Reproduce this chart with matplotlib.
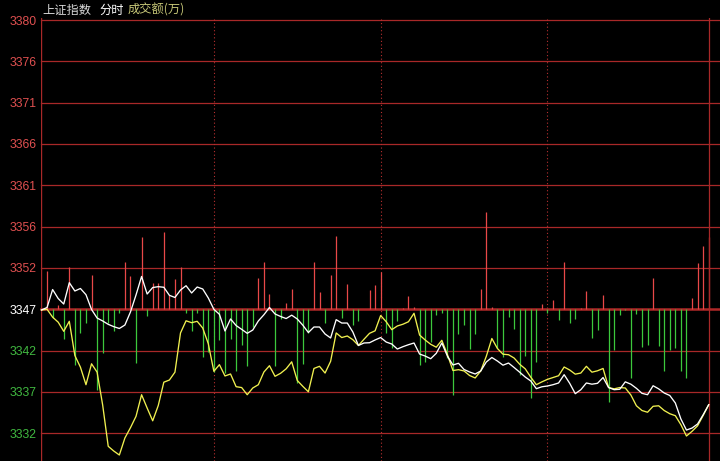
import matplotlib
matplotlib.use("Agg")
import matplotlib.pyplot as plt
import numpy as np

# ---------------- data ----------------
prev_close = 3346.82
grid_step = 4.785
tick_labels = ["3380", "3376", "3371", "3366", "3361", "3356", "3352",
               "3347", "3342", "3337", "3332"]
tick_steps = [7, 6, 5, 4, 3, 2, 1, 0, -1, -2, -3]

price = [3346.74, 3347.03, 3349.11, 3348.07, 3347.43, 3349.90, 3348.94, 3349.23, 3348.51, 3346.80,
         3345.81, 3345.47, 3345.08, 3344.81, 3344.60, 3345.00, 3346.51, 3348.48, 3350.62, 3348.59,
         3349.34, 3349.44, 3349.37, 3348.44, 3348.19, 3349.05, 3349.55, 3348.71, 3349.40, 3349.17,
         3348.13, 3346.82, 3346.24, 3344.31, 3345.70, 3344.94, 3344.50, 3344.04, 3344.42, 3345.47,
         3346.19, 3347.03, 3346.28, 3345.99, 3345.75, 3346.14, 3345.70, 3344.98, 3344.13, 3344.77,
         3344.77, 3343.96, 3343.50, 3345.62, 3345.23, 3345.23, 3344.19, 3342.63, 3342.92, 3342.95,
         3343.27, 3343.55, 3343.03, 3342.80, 3342.22, 3342.49, 3342.72, 3342.92, 3341.64, 3341.41,
         3341.10, 3341.72, 3342.92, 3341.41, 3340.37, 3340.57, 3339.85, 3339.56, 3339.33, 3339.68,
         3340.72, 3341.24, 3340.83, 3340.35, 3340.60, 3340.08, 3339.54, 3338.98, 3338.52, 3337.63,
         3337.85, 3337.94, 3338.09, 3338.29, 3339.25, 3338.25, 3337.05, 3337.51, 3338.29, 3338.15,
         3338.25, 3338.92, 3337.76, 3337.51, 3337.56, 3338.42, 3338.15, 3337.67, 3337.09, 3336.93,
         3337.97, 3337.61, 3337.13, 3336.84, 3335.97, 3334.12, 3332.84, 3333.07, 3333.54, 3334.61,
         3335.77]

index_line = [3346.74, 3346.82, 3345.91, 3345.33, 3344.27, 3345.43, 3341.47, 3340.12, 3338.09, 3340.51,
              3339.54, 3335.74, 3330.96, 3330.41, 3329.95, 3331.92, 3333.11, 3334.43, 3336.93, 3335.39,
              3333.91, 3335.68, 3338.38, 3338.63, 3339.54, 3344.08, 3345.49, 3345.27, 3345.43, 3344.65,
              3342.83, 3339.64, 3340.41, 3339.10, 3339.33, 3337.86, 3337.76, 3336.93, 3337.71, 3338.09,
              3339.56, 3340.29, 3339.06, 3339.41, 3339.93, 3340.74, 3338.58, 3337.90, 3337.27, 3339.97,
              3340.22, 3339.44, 3340.80, 3344.08, 3343.55, 3343.73, 3343.30, 3342.63, 3343.35, 3344.04,
              3344.33, 3346.10, 3345.38, 3344.46, 3344.89, 3345.09, 3345.38, 3346.36, 3343.84, 3343.27,
              3342.77, 3342.43, 3343.23, 3341.59, 3339.73, 3339.83, 3339.68, 3339.15, 3338.87, 3339.68,
              3341.38, 3343.44, 3342.28, 3341.62, 3341.56, 3341.18, 3340.46, 3339.93, 3338.96, 3338.09,
              3338.42, 3338.71, 3338.92, 3339.13, 3340.14, 3339.79, 3339.31, 3339.44, 3340.22, 3339.54,
              3339.70, 3339.97, 3337.76, 3337.61, 3337.76, 3337.71, 3336.90, 3335.65, 3335.10, 3334.90,
              3335.59, 3335.65, 3335.10, 3334.73, 3334.50, 3333.46, 3332.15, 3332.69, 3333.33, 3334.52,
              3335.77]

strength = [0.00, 4.47, -0.97, 0.50, -3.47, 4.86, -6.47, -2.74, -1.55, 3.97,
            -9.40, -5.10, -1.59, -2.49, -0.39, 5.48, 3.86, -6.18, 8.34, -0.74,
            3.08, 3.08, 8.95, 1.62, 3.54, 4.93, -0.43, -2.55, -0.39, -5.58,
            -4.94, -7.26, -3.61, -7.34, -3.44, -7.14, -4.19, -6.51, -2.07, 3.66,
            5.48, 1.77, -6.60, -1.10, 0.73, 2.35, -8.48, -6.31, -2.74, 5.48,
            2.00, -1.62, 3.97, 8.49, -0.95, 2.93, -1.77, -1.30, 0.00, 2.23,
            2.81, 4.32, -2.74, -4.48, -1.30, 0.15, 1.57, 0.30, -6.47, -6.10,
            -3.73, -0.63, -0.46, -5.64, -9.95, -2.86, -1.78, -4.54, -2.86, 2.33,
            11.30, 0.29, -4.48, -5.52, -0.86, -2.32, -7.56, -5.44, -10.27, -6.14,
            0.59, -0.46, 1.08, -1.20, 5.48, -1.62, -1.10, 0.15, 2.12, -3.32,
            -2.42, 1.63, -10.71, -4.68, -0.68, -0.12, -8.01, -0.52, -4.33, -4.13,
            3.66, -4.30, -7.12, -4.77, -4.48, -7.14, -7.90, 1.31, 5.40, 7.33,
            8.41]

hour_marks = [31, 61, 91]

# ---------------- style ----------------
BG = "black"
GRID_RED = "#a82828"
BAR_RED = "#e84848"
BAR_GREEN = "#3cc83c"
LBL_RED = "#e05050"
LBL_GREEN = "#40b840"

W, H = 720, 461
fig = plt.figure(figsize=(W / 100, H / 100), dpi=100, facecolor=BG)

# plot area in pixels: left 41, top 18, right 720, bottom 461
px_per_unit = 8.637
base_px = 309.3
x0_px, dx_px = 41.5, 5.56
left_px, top_px = 41, 18
ax = fig.add_axes([left_px / W, 0, (W - left_px) / W, (H - top_px) / H])
ax.set_facecolor(BG)

n = len(price)
x = np.arange(n)
ax.set_xlim((left_px - x0_px) / dx_px, (W - x0_px) / dx_px)
ax.set_ylim(prev_close - (H - base_px) / px_per_unit,
            prev_close + (base_px - top_px) / px_per_unit)

for s in ax.spines.values():
    s.set_visible(False)
ax.axvline(ax.get_xlim()[0] + 0.05, color=GRID_RED, lw=1.0, zorder=3)
ax.axvline(n - 1 + 0.05, color=GRID_RED, lw=0.9, zorder=3)

levels = [prev_close + k * grid_step for k in tick_steps]
for k, lv in zip(tick_steps, levels):
    if k == 0:
        ax.axhline(lv, color="#b02828", lw=1.8, zorder=2, clip_on=False)
    else:
        ax.axhline(lv, color=GRID_RED, lw=0.9, zorder=1, clip_on=False)

for hm in hour_marks:
    ax.axvline(hm, color="#b83030", lw=0.8, ls=(0, (1, 2.2)), zorder=1)

# strength bars
vals = np.array(strength)
up = vals > 0
dn = vals < 0
ax.vlines(x[up], prev_close, prev_close + vals[up], colors=BAR_RED, lw=0.9, zorder=2.5)
ax.vlines(x[dn], prev_close, prev_close + vals[dn], colors=BAR_GREEN, lw=0.9, zorder=2.5)

# lines
ax.plot(x, index_line, color="#f0f050", lw=0.95, zorder=4, clip_on=False)
ax.plot(x, price, color="white", lw=0.95, zorder=5, clip_on=False)

# y labels
ax.set_xticks([])
ax.set_yticks(levels)
ax.set_yticklabels(tick_labels, fontfamily="Liberation Sans", fontsize=8.8)
ax.tick_params(axis="y", length=0, pad=3)
for k, t in zip(tick_steps, ax.get_yticklabels()):
    t.set_color(LBL_RED if k > 0 else ("white" if k == 0 else LBL_GREEN))

# header texts
cjk = ["Noto Sans CJK SC", "DejaVu Sans"]
fig.text(42.5 / W, 1 - 10 / H, "上证指数", color="#d8d8d8", fontsize=8.8,
         family=cjk, va="center", ha="left")
fig.text(99.5 / W, 1 - 10 / H, "分时", color="white", fontsize=8.8,
         family=cjk, va="center", ha="left")
fig.text(128 / W, 1 - 10 / H, "成交额(万)", color="#c8c878", fontsize=8.8,
         family=cjk, va="center", ha="left")

fig.savefig("out.png", dpi=100, facecolor=BG)
